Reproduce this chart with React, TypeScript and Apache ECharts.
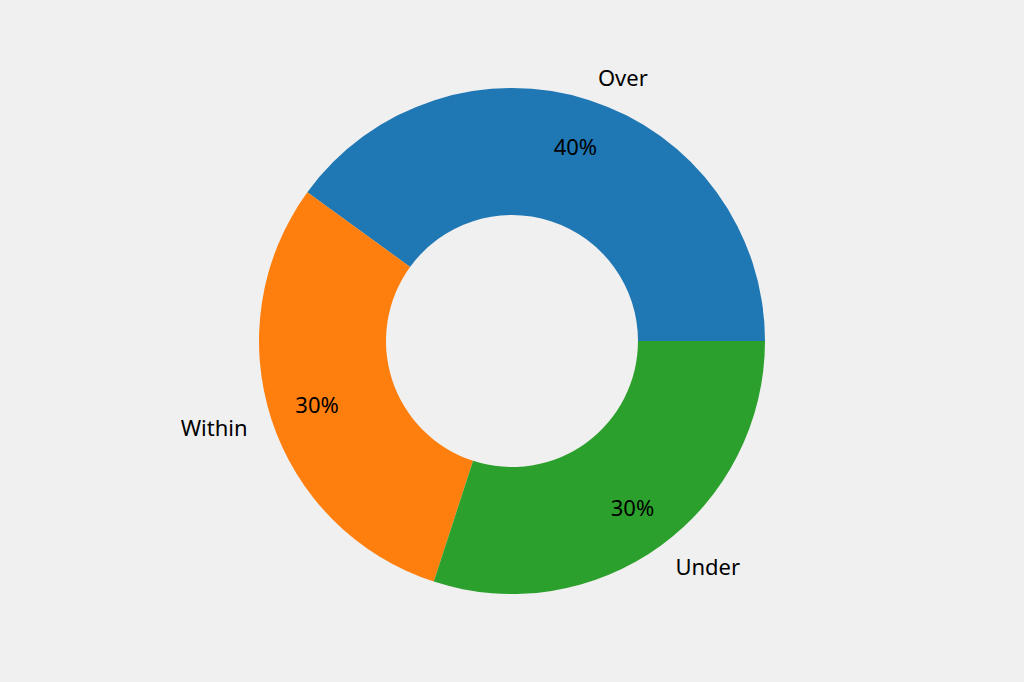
import { useEffect, useRef } from 'react';
import * as echarts from 'echarts';

const categories = ['Over', 'Within', 'Under'];
const shares = [40, 30, 30];
const colors = ['#1f77b4', '#ff7f0e', '#2ca02c'];

const FONT = '"Noto Sans", sans-serif';

const App = () => {
  const divRef = useRef<HTMLDivElement | null>(null);

  useEffect(() => {
    document.body.style.margin = '0';
    if (!divRef.current) return;
    const chart = echarts.init(divRef.current, undefined, { renderer: 'svg' });

    const total = shares.reduce((a, b) => a + b, 0);

    chart.setOption({
      animation: false,
      backgroundColor: '#f0f0f0',
      series: [
        {
          type: 'pie',
          center: [512, 341],
          radius: [126, 253],
          startAngle: 0,
          clockwise: false,
          avoidLabelOverlap: false,
          silent: true,
          data: categories.map((name, i) => ({
            name,
            value: shares[i],
            itemStyle: { color: colors[i] },
          })),
          label: {
            show: true,
            position: 'outside',
            formatter: '{b}',
            color: '#000',
            fontSize: 22,
            fontFamily: FONT,
            distanceToLabelLine: 0,
          },
          labelLine: { show: false, length: 25, length2: 0 },
        },
        {
          type: 'pie',
          center: [512, 341],
          radius: [151, 253],
          startAngle: 0,
          clockwise: false,
          avoidLabelOverlap: false,
          silent: true,
          data: categories.map((name, i) => ({
            name,
            value: shares[i],
            itemStyle: { color: 'transparent' },
          })),
          label: {
            show: true,
            position: 'inside',
            formatter: (p: any) => `${Math.round((p.value / total) * 100)}%`,
            color: '#000',
            fontSize: 22,
            fontFamily: FONT,
          },
          labelLine: { show: false },
        },
      ],
    });

    return () => chart.dispose();
  }, []);

  return <div ref={divRef} style={{ width: 1024, height: 682 }} />;
};

export default App;
